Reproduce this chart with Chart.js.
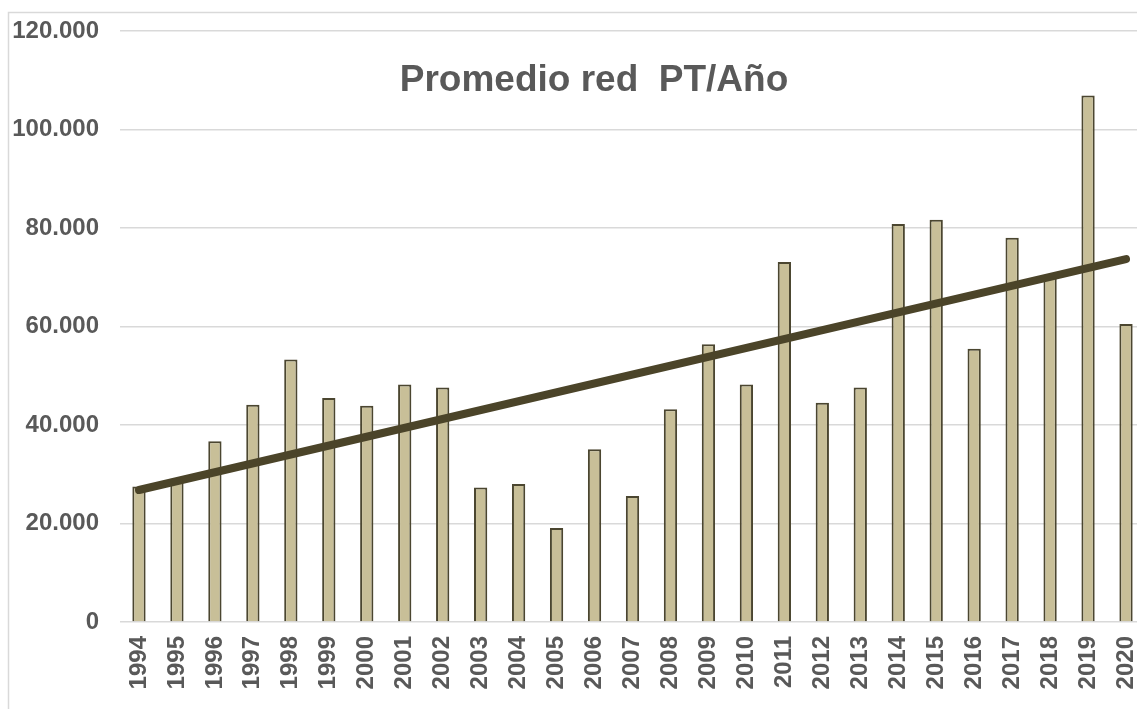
<!DOCTYPE html>
<html>
<head>
<meta charset="utf-8">
<script src="https://cdn.jsdelivr.net/npm/chart.js@4.4.1/dist/chart.umd.min.js"></script>
<style>
  html, body { margin: 0; padding: 0; background: #fff; overflow: hidden; }
  #wrap { width: 1137px; height: 709px; overflow: hidden; position: relative; }
  canvas { position: absolute; left: 0; top: 0; }
</style>
</head>
<body>
<div id="wrap"><canvas id="chart" width="1160" height="709"></canvas></div>
<script>
const years = ['1994', '1995', '1996', '1997', '1998', '1999', '2000', '2001', '2002', '2003',
  '2004', '2005', '2006', '2007', '2008', '2009', '2010', '2011', '2012', '2013',
  '2014', '2015', '2016', '2017', '2018', '2019', '2020'];

const promedio = [27500, 29100, 36700, 44100, 53300, 45500, 43900, 48200, 47600, 27300,
  28000, 19100, 35100, 25600, 43200, 56400, 48200, 73100, 44500, 47600,
  80800, 81700, 55500, 78000, 70400, 106900, 60500];

// trend line endpoints
const trend = [26800, null, null, null, null, null, null, null, null, null,
  null, null, null, null, null, null, null, null, null, null,
  null, null, null, null, null, null, 73700];

const yTicks = [0, 20000, 40000, 60000, 80000, 100000, 120000];
const chartTitle = 'Promedio red  PT/Año';

const textGray = '#595959';
const gridGray = '#d9d9d9';
const fontFamily = '"Liberation Sans", Arial, sans-serif';

const fmt = v => String(v).replace(/\B(?=(\d{3})+(?!\d))/g, '.');

const frameAndTitle = {
  id: 'frameAndTitle',
  beforeDraw(chart) {
    const ctx = chart.ctx;
    ctx.save();
    ctx.strokeStyle = gridGray;
    ctx.lineWidth = 1.5;
    ctx.strokeRect(8.5, 12.5, 1600, 1000);
    ctx.restore();
  },
  afterDraw(chart) {
    const ctx = chart.ctx;
    ctx.save();
    ctx.font = 'bold 37px ' + fontFamily;
    ctx.fillStyle = textGray;
    ctx.textAlign = 'center';
    ctx.textBaseline = 'middle';
    ctx.fillText(chartTitle, 594, 81);
    ctx.restore();
  }
};

const ctx = document.getElementById('chart').getContext('2d');
new Chart(ctx, {
  data: {
    labels: years,
    datasets: [
      {
        type: 'line',
        label: 'Tendencia',
        data: trend,
        spanGaps: true,
        borderColor: '#4b4429',
        borderWidth: 8,
        borderCapStyle: 'round',
        pointRadius: 0,
        clip: false,
        order: 0
      },
      {
        type: 'bar',
        label: 'Promedio',
        data: promedio,
        backgroundColor: '#c8bf98',
        borderColor: '#4b4630',
        borderWidth: 2,
        categoryPercentage: 1,
        barPercentage: 0.35,
        order: 1
      }
    ]
  },
  options: {
    responsive: false,
    animation: false,
    layout: { autoPadding: false, padding: { top: 31, right: 15, left: 0, bottom: 0 } },
    plugins: {
      legend: { display: false },
      tooltip: { enabled: false },
      title: { display: false }
    },
    scales: {
      x: {
        grid: { display: false, drawTicks: false },
        border: { display: false },
        ticks: {
          autoSkip: false,
          minRotation: 90,
          maxRotation: 90,
          padding: 14,
          color: textGray,
          font: { family: fontFamily, size: 24, weight: 'bold' }
        },
        afterFit: scale => {
          scale.height = 87;
          scale.paddingLeft = 0;
          scale.paddingRight = 0;
        }
      },
      y: {
        min: 0,
        max: 120000,
        afterBuildTicks: scale => { scale.ticks = yTicks.map(v => ({ value: v })); },
        grid: { color: gridGray, lineWidth: 1.5, drawTicks: false },
        border: { display: false },
        ticks: {
          padding: 21,
          color: textGray,
          font: { family: fontFamily, size: 24, weight: 'bold' },
          callback: v => fmt(v)
        },
        afterFit: scale => {
          scale.width = 120;
          scale.paddingTop = 0;
          scale.paddingBottom = 0;
        }
      }
    }
  },
  plugins: [frameAndTitle]
});
</script>
</body>
</html>
